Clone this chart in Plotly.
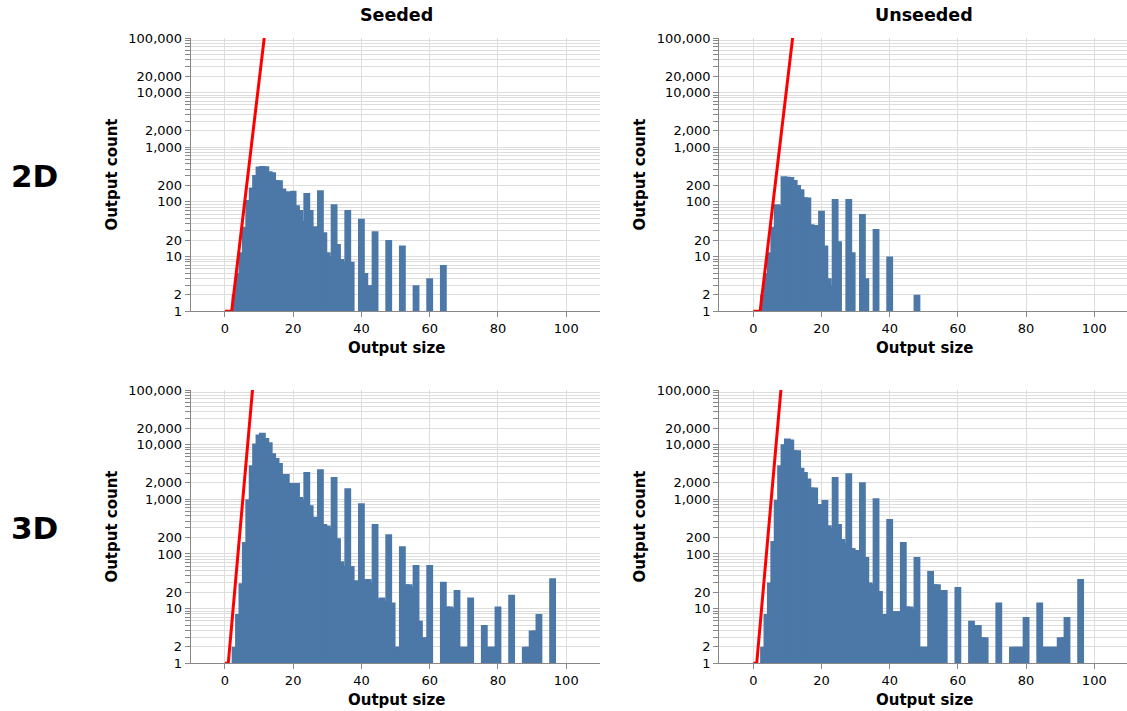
import plotly.graph_objects as go

W, H = 1127, 711

# ---------------- data ----------------
col_titles = ["Seeded", "Unseeded"]
row_titles = ["2D", "3D"]

seeded_2d_sizes = [1, 2, 3, 4, 5, 6, 7, 8, 9, 10, 11, 12, 13, 14, 15, 16, 17, 18, 19, 20,
                   21, 22, 23, 24, 25, 26, 27, 28, 29, 30, 31, 32, 33, 34, 35, 36, 37,
                   40, 41, 42, 43, 44, 48, 52, 56, 60, 64]
seeded_2d_counts = [1, 1, 2, 5, 12, 35, 108, 183, 310, 445, 455, 450, 366, 350, 251, 250, 176, 157, 150, 160,
                    87, 71, 45, 145, 71, 36, 30, 164, 28, 12, 10, 91, 17, 9, 8, 71, 8,
                    49, 5, 3, 3, 29, 20, 16, 3, 4, 7]

unseeded_2d_sizes = [1, 2, 3, 4, 5, 6, 7, 8, 9, 10, 11, 12, 13, 14, 15, 16, 17, 18, 19, 20,
                     21, 22, 23, 24, 25, 28, 29, 32, 33, 36, 40, 48]
unseeded_2d_counts = [1, 1, 2, 5, 12, 35, 91, 85, 296, 288, 285, 251, 203, 171, 122, 120, 39, 38, 36, 69,
                      16, 4, 3, 113, 19, 113, 12, 60, 4, 32, 10, 2]

seeded_3d_sizes = [1, 2, 3, 4, 5, 6, 7, 8, 9, 10, 11, 12, 13, 14, 15, 16, 17, 18, 19, 20,
                   21, 22, 23, 24, 25, 26, 27, 28, 29, 30, 31, 32, 33, 34, 35, 36, 37, 38, 39, 40,
                   41, 42, 43, 44, 45, 46, 47, 48, 49, 50, 51, 52, 53, 54, 55, 56, 57, 58, 59, 60,
                   64, 65, 66, 67, 68, 69, 70, 71, 72, 76, 77, 78, 79, 80, 84, 88, 89, 90, 91, 92, 96]
seeded_3d_counts = [1, 1, 2, 8, 29, 166, 1000, 4200, 10500, 15400, 16500, 13200, 11100, 6950, 5700, 4600, 2900, 2900, 1990, 1990,
                    1990, 1100, 1000, 3150, 780, 480, 400, 3560, 352, 333, 300, 2550, 195, 74, 60, 1600, 60, 33, 30, 850,
                    35, 35, 30, 352, 15, 16, 14, 230, 13, 2, 2, 139, 28, 28, 25, 63, 6, 3, 3, 63,
                    31, 11, 11, 10, 22, 2, 2, 2, 16, 5, 2, 2, 2, 11, 18, 2, 2, 4, 4, 8, 36]

unseeded_3d_sizes = [1, 2, 3, 4, 5, 6, 7, 8, 9, 10, 11, 12, 13, 14, 15, 16, 17, 18, 19, 20,
                     21, 22, 23, 24, 25, 26, 27, 28, 29, 30, 31, 32, 33, 34, 35, 36, 37, 38, 39, 40,
                     41, 42, 43, 44, 45, 46, 47, 48, 49, 50, 51, 52, 53, 54, 55, 56, 60,
                     64, 65, 66, 67, 68, 72, 76, 77, 78, 79, 80, 84, 85, 86, 87, 88, 89, 90, 91, 92, 96]
unseeded_3d_counts = [1, 1, 2, 8, 30, 172, 980, 4200, 10200, 12900, 12400, 7900, 7900, 3800, 3150, 2400, 1650, 1650, 820, 820,
                      970, 337, 300, 2550, 352, 187, 160, 3000, 128, 118, 100, 2050, 88, 30, 28, 1050, 21, 8, 8, 435,
                      9, 9, 9, 165, 11, 11, 10, 88, 2, 2, 2, 49, 28, 28, 22, 22, 25,
                      6, 5, 5, 3, 3, 13, 2, 2, 2, 2, 7, 13, 2, 2, 2, 2, 2, 3, 3, 7, 35]

# red reference curves
ref_2d_sizes = [0, 1, 2, 3, 4, 5, 6, 7, 8, 9, 10, 11, 12, 13]
ref_2d_counts = [1, 1, 1, 3.3, 11, 37, 125, 420, 1400, 4700, 16000, 52000, 175000, 590000]
ref_3d_sizes = [0, 1, 2, 3, 4, 5, 6, 7, 8, 9]
ref_3d_counts = [1, 1, 5, 26, 130, 660, 3400, 17000, 85000, 430000]

y_tick_labels = {1: "1", 2: "2", 10: "10", 20: "20", 100: "100", 200: "200",
                 1000: "1,000", 2000: "2,000", 10000: "10,000", 20000: "20,000",
                 100000: "100,000"}
x_tick_vals = [0, 20, 40, 60, 80, 100]

# ---------------- layout geometry ----------------
def px_x(p):
    return p / W

def px_y(p):
    return 1 - p / H

col_dom = [[px_x(190.7), px_x(600.4)], [px_x(719.2), 1.0]]
col_xrange = [[-10, 110], [-10, 109.6]]
row_dom = [[px_y(311.2), px_y(38)], [px_y(663.3), px_y(390)]]

panels = [
    (0, 0, seeded_2d_sizes, seeded_2d_counts, ref_2d_sizes, ref_2d_counts),
    (0, 1, unseeded_2d_sizes, unseeded_2d_counts, ref_2d_sizes, ref_2d_counts),
    (1, 0, seeded_3d_sizes, seeded_3d_counts, ref_3d_sizes, ref_3d_counts),
    (1, 1, unseeded_3d_sizes, unseeded_3d_counts, ref_3d_sizes, ref_3d_counts),
]

ytickvals = []
for k in range(5):
    for m in range(1, 10):
        ytickvals.append(m * 10 ** k)
ytickvals.append(100000)
ytext = [y_tick_labels.get(v, "") for v in ytickvals]

FONT = "DejaVu Sans"
AX_COLOR = "#888888"
GRID = "#dddddd"

fig = go.Figure()
layout = dict(
    width=W, height=H,
    margin=dict(l=0, r=0, t=0, b=0, pad=0, autoexpand=False),
    paper_bgcolor="white", plot_bgcolor="white",
    showlegend=False,
    barmode="overlay",
    font=dict(family=FONT, color="black"),
)

annotations = []
for i, (r, c, sx, sy, rx, ry) in enumerate(panels):
    n = i + 1
    xa = "x" if n == 1 else f"x{n}"
    ya = "y" if n == 1 else f"y{n}"
    fig.add_trace(go.Bar(
        x=sx, y=sy, width=[2] * len(sx),
        marker=dict(color="#4c78a8", line=dict(width=0)),
        xaxis=xa, yaxis=ya, hoverinfo="x+y",
    ))
    fig.add_trace(go.Scatter(
        x=rx, y=ry, mode="lines",
        line=dict(color="#ff0000", width=3),
        xaxis=xa, yaxis=ya, hoverinfo="skip",
    ))
    xkey = "xaxis" if n == 1 else f"xaxis{n}"
    ykey = "yaxis" if n == 1 else f"yaxis{n}"
    layout[xkey] = dict(
        domain=col_dom[c], range=col_xrange[c], anchor=ya,
        tickvals=x_tick_vals, ticks="outside", ticklen=5, tickcolor=AX_COLOR,
        showline=True, linecolor=AX_COLOR, linewidth=1,
        showgrid=True, gridcolor=GRID, gridwidth=1, zeroline=False,
        tickfont=dict(family=FONT, size=13, color="black"),
        fixedrange=True, automargin=False,
    )
    layout[ykey] = dict(
        domain=row_dom[r], type="log", range=[0, 5], anchor=xa,
        tickvals=ytickvals, ticktext=ytext,
        ticks="outside", ticklen=5, tickcolor=AX_COLOR,
        showline=True, linecolor=AX_COLOR, linewidth=1,
        showgrid=True, gridcolor=GRID, gridwidth=1, zeroline=False,
        tickfont=dict(family=FONT, size=13, color="black"),
        fixedrange=True, automargin=False,
    )
    xc = px_x(396) if c == 0 else px_x(924)
    annotations.append(dict(
        text="<b>Output size</b>", xref="paper", yref="paper",
        x=xc, y=px_y(348 if r == 0 else 700), showarrow=False,
        xanchor="center", yanchor="middle",
        font=dict(family=FONT, size=15, color="black"),
    ))
    annotations.append(dict(
        text="<b>Output count</b>", xref="paper", yref="paper",
        x=px_x(112 if c == 0 else 640), y=px_y(174.6 if r == 0 else 526.6),
        showarrow=False, textangle=-90,
        xanchor="center", yanchor="middle",
        font=dict(family=FONT, size=15, color="black"),
    ))

for txt, xp in zip(col_titles, [396, 924]):
    annotations.append(dict(text="<b>%s</b>" % txt, xref="paper", yref="paper",
                            x=px_x(xp), y=px_y(15), showarrow=False,
                            xanchor="center", yanchor="middle",
                            font=dict(family=FONT, size=17.5, color="black")))
for txt, yp in zip(row_titles, [176, 528]):
    annotations.append(dict(text="<b>%s</b>" % txt, xref="paper", yref="paper",
                            x=px_x(34), y=px_y(yp), showarrow=False,
                            xanchor="center", yanchor="middle",
                            font=dict(family=FONT, size=31, color="black")))

layout["annotations"] = annotations
fig.update_layout(**layout)

post = ("document.documentElement.style.margin='0';"
        "document.documentElement.style.padding='0';"
        "document.documentElement.style.overflow='hidden';"
        "document.body.style.margin='0';"
        "document.body.style.padding='0';"
        "document.body.style.overflow='hidden';")
fig.write_html("out.html", post_script=post, config={"displayModeBar": False})
